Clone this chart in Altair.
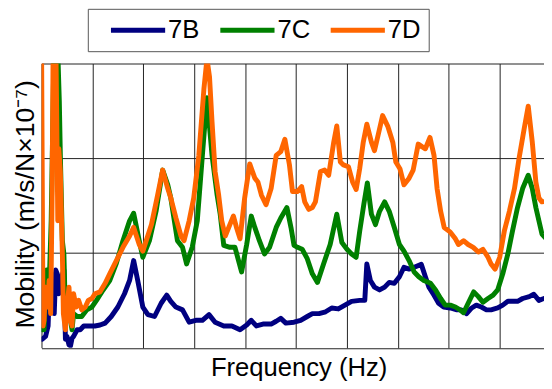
import altair as alt
import pandas as pd

SERIES = ["7B", "7C", "7D"]
COLORS = ["#000080", "#008000", "#FF6600"]

FREQ_7B = [1, 8, 13, 17, 21, 25, 28, 31, 34, 37,
           44, 47, 50, 54, 57, 60, 63, 70, 76, 83,
           95, 105, 115, 125, 137, 150, 163, 173, 181, 189,
           199, 209, 222, 235, 246, 254, 264, 277, 290, 303,
           316, 329, 341, 358, 374, 390, 403, 412, 422, 435,
           451, 461, 470, 480, 496, 509, 522, 532, 545, 558,
           570, 583, 596, 609, 625, 635, 639, 646, 654, 664,
           674, 683, 693, 703, 712, 722, 732, 746, 754, 761,
           771, 780, 790, 803, 816, 825, 835, 845, 854, 864,
           874, 883, 896, 906, 916, 935, 945, 958, 967, 977,
           987, 1000]
MOB_7B = [0.09, 0.12, 0.23, 0.85, 0.64, 0.36, 0.82, 0.78, 0.57, 0.71,
          0.82, 0.09, 0.12, 0.03, 0.02, 0.10, 0.12, 0.19, 0.19, 0.23,
          0.23, 0.23, 0.24, 0.26, 0.33, 0.43, 0.57, 0.71, 0.92, 0.71,
          0.43, 0.35, 0.33, 0.47, 0.555, 0.49, 0.43, 0.40, 0.27, 0.29,
          0.29, 0.35, 0.27, 0.23, 0.23, 0.19, 0.24, 0.29, 0.23, 0.25,
          0.25, 0.28, 0.31, 0.26, 0.27, 0.29, 0.33, 0.36, 0.36, 0.38,
          0.42, 0.41, 0.45, 0.49, 0.50, 0.50, 0.885, 0.71, 0.64, 0.61,
          0.64, 0.69, 0.68, 0.75, 0.85, 0.83, 0.85, 0.88, 0.75, 0.64,
          0.555, 0.47, 0.43, 0.42, 0.40, 0.40, 0.36, 0.42, 0.45, 0.43,
          0.40, 0.40, 0.42, 0.45, 0.49, 0.49, 0.52, 0.54, 0.565, 0.50,
          0.52, 0.53]

FREQ_7C = [1, 5, 10, 15, 19, 25, 31, 35, 37, 41,
           44, 47, 50, 57, 60, 63, 70, 79, 89, 99,
           108, 121, 134, 147, 160, 173, 181, 192, 199, 212,
           225, 238, 248, 254, 267, 277, 285, 296, 306, 316,
           325, 335, 345, 351, 358, 370, 380, 387, 393, 403,
           412, 419, 428, 438, 448, 461, 470, 482, 490, 496,
           503, 512, 522, 532, 542, 554, 567, 580, 590, 600,
           609, 618, 625, 633, 640, 648, 656, 664, 674, 683,
           693, 703, 712, 722, 732, 741, 751, 764, 774, 784,
           793, 803, 813, 822, 829, 838, 849, 858, 867, 877,
           887, 896, 906, 916, 925, 935, 945, 956, 964, 971,
           977, 983, 1000]
MOB_7C = [0.19, 0.19, 0.82, 0.64, 1.34, 3.3, 3.3, 2.6, 2.03, 1.13,
          0.99, 0.36, 0.54, 0.29, 0.19, 0.36, 0.33, 0.33, 0.40, 0.43,
          0.50, 0.61, 0.71, 0.89, 1.13, 1.34, 1.42, 1.13, 0.955, 1.13,
          1.44, 1.875, 1.72, 1.58, 1.13, 1.06, 0.885, 1.06, 1.34, 2.03,
          2.64, 2.03, 1.61, 1.41, 1.08, 1.06, 1.06, 0.92, 0.80, 1.09,
          1.39, 1.27, 1.13, 0.99, 1.06, 1.27, 1.37, 1.48, 1.27, 1.08,
          1.06, 1.04, 0.94, 0.78, 0.69, 0.885, 1.09, 1.41, 1.11, 1.04,
          0.99, 0.955, 1.23, 1.51, 1.74, 1.41, 1.30, 1.44, 1.54, 1.44,
          1.27, 1.09, 1.02, 0.92, 0.80, 0.75, 0.71, 0.68, 0.61, 0.52,
          0.45, 0.45, 0.43, 0.40, 0.37, 0.47, 0.59, 0.54, 0.48, 0.52,
          0.555, 0.61, 0.78, 0.99, 1.23, 1.48, 1.68, 1.82, 1.68, 1.48,
          1.34, 1.20, 1.10]

FREQ_7D = [0, 3, 5, 8, 12, 15, 18, 21, 23, 28,
           30, 32, 34, 37, 41, 43, 47, 50, 54, 57,
           60, 63, 68, 73, 79, 86, 92, 99, 105, 115,
           125, 134, 147, 160, 173, 181, 192, 199, 216, 228,
           238, 248, 254, 264, 274, 280, 290, 299, 309, 319,
           325, 330, 335, 341, 348, 354, 361, 370, 377, 383,
           390, 399, 409, 419, 425, 432, 441, 451, 461, 470,
           478, 487, 493, 503, 511, 517, 525, 532, 538, 548,
           556, 564, 574, 580, 587, 593, 603, 611, 618, 625,
           632, 639, 648, 654, 661, 670, 680, 690, 696, 704,
           712, 722, 730, 740, 748, 754, 763, 771, 777, 784,
           791, 803, 813, 819, 829, 838, 848, 858, 867, 877,
           883, 891, 900, 909, 919, 929, 938, 948, 956, 964,
           971, 977, 983, 1000]
MOB_7D = [3.3, 0.23, 0.29, 0.64, 0.43, 0.71, 0.36, 1.68, 3.3, 3.3,
          2.38, 1.34, 2.10, 1.86, 0.99, 0.36, 0.19, 0.43, 0.64, 0.29,
          0.23, 0.57, 0.43, 0.50, 0.40, 0.43, 0.50, 0.52, 0.57, 0.59,
          0.68, 0.78, 0.92, 1.06, 1.18, 1.27, 1.09, 1.02, 1.30, 1.61,
          1.875, 1.68, 1.58, 1.37, 1.18, 1.13, 1.34, 1.58, 2.03, 2.73,
          3.05, 2.86, 2.38, 1.86, 1.61, 1.34, 1.18, 1.30, 1.39, 1.27,
          1.15, 1.58, 1.94, 1.79, 1.75, 1.61, 1.51, 1.68, 2.03, 2.07,
          2.20, 1.93, 1.65, 1.65, 1.70, 1.54, 1.46, 1.48, 1.54, 1.86,
          1.875, 1.82, 2.17, 2.34, 1.96, 1.93, 1.91, 1.75, 1.67, 1.89,
          2.17, 2.36, 2.17, 2.08, 2.24, 2.45, 2.34, 2.17, 1.96, 1.89,
          1.72, 1.79, 1.875, 2.15, 2.12, 2.10, 2.22, 2.03, 1.68, 1.44,
          1.27, 1.22, 1.15, 1.09, 1.13, 1.09, 1.06, 1.01, 1.04, 0.955,
          0.885, 0.83, 0.955, 1.23, 1.44, 1.68, 2.00, 2.31, 2.55, 2.17,
          1.75, 1.58, 1.54, 1.55]

rows = []
for name, fs, ms in [("7B", FREQ_7B, MOB_7B), ("7C", FREQ_7C, MOB_7C), ("7D", FREQ_7D, MOB_7D)]:
    for f, m in zip(fs, ms):
        rows.append({"sample": name, "freq": f, "mob": m})
df = pd.DataFrame(rows)

FONT = "Liberation Sans"
FS = 26

chart = alt.Chart(df).mark_line(
    clip=True, strokeWidth=5, strokeJoin="round", strokeCap="round"
).encode(
    x=alt.X("freq:Q",
            scale=alt.Scale(domain=[0, 987], nice=False, zero=False),
            axis=alt.Axis(values=list(range(0, 1000, 100)), labels=False, ticks=False,
                          domain=False, grid=True, gridColor="#222", gridWidth=1,
                          title="Frequency (Hz)", titleX=261, titleY=28,
                          titleAlign="center", titleBaseline="alphabetic",
                          titleFont=FONT, titleFontSize=FS, titleFontWeight="normal",
                          titleColor="black")),
    y=alt.Y("mob:Q",
            scale=alt.Scale(domain=[0, 3], nice=False, zero=True),
            axis=alt.Axis(values=[0, 1, 2, 3], labels=False, ticks=False,
                          domain=False, grid=True, gridColor="#222", gridWidth=1,
                          title="Mobility (m/s/N×10⁻⁷)", titleAngle=270,
                          titleX=-8, titleY=142.5, titleAlign="center",
                          titleBaseline="alphabetic",
                          titleFont=FONT, titleFontSize=27, titleFontWeight="normal",
                          titleColor="black")),
    color=alt.Color("sample:N",
                    scale=alt.Scale(domain=SERIES, range=COLORS),
                    legend=alt.Legend(orient="none", legendX=47, legendY=-55.5,
                                      direction="horizontal", title=None,
                                      strokeColor="#555", fillColor="white", padding=8,
                                      symbolType="M-2.5,0H2.5", symbolSize=484,
                                      symbolStrokeWidth=5, symbolOffset=29.5,
                                      labelOffset=17, labelFont=FONT, labelFontSize=FS,
                                      labelColor="black", columnPadding=5)),
).properties(
    width=510, height=288.5,
    autosize=alt.AutoSizeParams(type="none"),
    padding={"left": 34, "top": 53.5, "right": 0, "bottom": 38},
).configure_view(strokeWidth=0)

chart.save("out.html", embed_options={"renderer": "svg", "actions": False})
